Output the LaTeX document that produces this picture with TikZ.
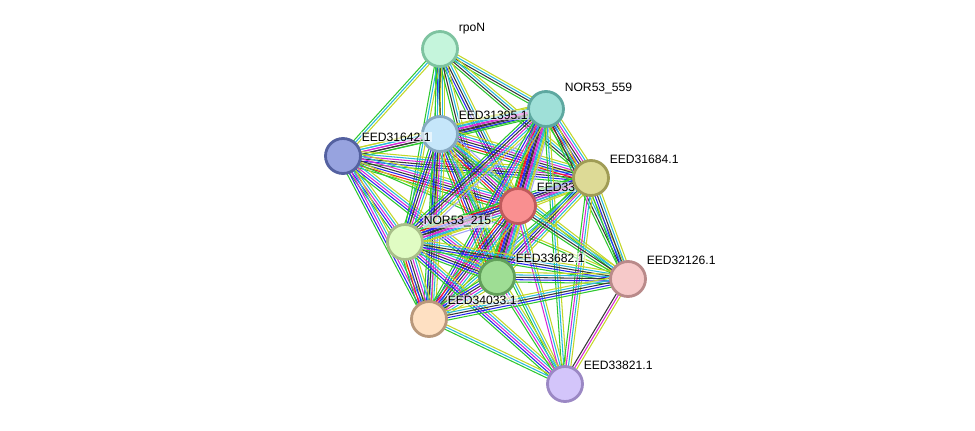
\documentclass[tikz,border=0pt]{standalone}
\usepackage{fontspec}
\setmainfont{Liberation Sans}
\usetikzlibrary{calc}
\usetikzlibrary{backgrounds}

% evidence colours
\definecolor{cnb}{RGB}{46,200,46}
\definecolor{cfu}{RGB}{240,30,30}
\definecolor{coc}{RGB}{40,40,240}
\definecolor{ccx}{RGB}{55,55,55}
\definecolor{cex}{RGB}{215,40,215}
\definecolor{cdb}{RGB}{40,185,220}
\definecolor{ctm}{RGB}{195,215,40}
\definecolor{cho}{RGB}{165,165,250}

% one bundle of parallel evidence lines between two nodes
\newcommand\stredge[3]{%
  \foreach \ch [count=\i] in {#3} {\xdef\nch{\i}}%
  \foreach \ch [count=\i] in {#3} {%
    \pgfmathsetmacro\off{(\i-(\nch+1)/2)*1.35}%
    \draw[\ch] ($(#1.center)!\off pt!90:(#2.center)$) -- ($(#2.center)!\off pt!-90:(#1.center)$);
  }%
}

\begin{document}
\begin{tikzpicture}[
    x={(0.02cm,0cm)}, y={(0cm,-0.02cm)},
    % evidence line styles
    nb/.style={draw=cnb, line width=0.6pt},
    fu/.style={draw=cfu, line width=0.6pt},
    oc/.style={draw=coc, line width=0.6pt},
    cx/.style={draw=ccx, line width=0.6pt},
    ex/.style={draw=cex, line width=0.6pt},
    db/.style={draw=cdb, line width=0.6pt},
    tm/.style={draw=ctm, line width=0.6pt},
    ho/.style={draw=cho, line width=0.6pt},
    % protein node
    stnode/.style={circle, line width=1.6pt, minimum size=0.7cm, inner sep=0pt},
    % name next to a node
    lbl/.style={font=\fontsize{6.9}{8}\selectfont, inner sep=0.6pt, xshift=2.3pt,
      fill=white, fill opacity=0.6, text opacity=1}
  ]
  \useasboundingbox (0,0) rectangle (975,430);

  % --- Nodes ---
  \node[stnode, fill={rgb,255:red,197;green,245;blue,220}, draw={rgb,255:red,126;green,195;blue,160},
        label={[lbl]45:rpoN}] (rpoN) at (440,49) {};
  \node[stnode, fill={rgb,255:red,159;green,224;blue,216}, draw={rgb,255:red,94;green,168;blue,160},
        label={[lbl]45:NOR53\_559}] (nor559) at (546,109) {};
  \node[stnode, fill={rgb,255:red,197;green,230;blue,250}, draw={rgb,255:red,134;green,169;blue,192},
        label={[lbl]45:EED31395.1}] (eed395) at (440,134) {};
  \node[stnode, fill={rgb,255:red,151;green,163;blue,223}, draw={rgb,255:red,84;green,97;blue,160},
        label={[lbl]45:EED31642.1}] (eed642) at (343,156) {};
  \node[stnode, fill={rgb,255:red,249;green,143;blue,144}, draw={rgb,255:red,191;green,90;blue,92},
        label={[lbl]45:EED33}] (eed33) at (518,206) {};
  \node[stnode, fill={rgb,255:red,221;green,218;blue,150}, draw={rgb,255:red,160;green,156;blue,85},
        label={[lbl]45:EED31684.1}] (eed684) at (591,178) {};
  \node[stnode, fill={rgb,255:red,224;green,252;blue,195}, draw={rgb,255:red,168;green,190;blue,137},
        label={[lbl]45:NOR53\_215}] (nor215) at (405,242) {};
  \node[stnode, fill={rgb,255:red,254;green,224;blue,194}, draw={rgb,255:red,185;green,152;blue,123},
        label={[lbl]45:EED34033.1}] (eed033) at (429,319) {};
  \node[stnode, fill={rgb,255:red,158;green,221;blue,148}, draw={rgb,255:red,98;green,160;blue,90},
        label={[lbl]45:EED33682.1}] (eed682) at (497,277) {};
  \node[stnode, fill={rgb,255:red,246;green,201;blue,201}, draw={rgb,255:red,185;green,138;blue,138},
        label={[lbl]45:EED32126.1}] (eed126) at (628,279) {};
  \node[stnode, fill={rgb,255:red,211;green,197;blue,250}, draw={rgb,255:red,155;green,136;blue,196},
        label={[lbl]45:EED33821.1}] (eed821) at (565,384) {};

  % --- Edges ---
  \begin{pgfonlayer}{background}
    \stredge{rpoN}{eed642}{nb,db,tm}
    \stredge{rpoN}{eed395}{nb,oc,cx,db,tm}
    \stredge{rpoN}{nor559}{nb,cx,db,tm}
    \stredge{rpoN}{eed684}{nb,cx,db,tm}
    \stredge{rpoN}{eed33}{nb,oc,cx,db,tm}
    \stredge{rpoN}{nor215}{nb,db,tm}
    \stredge{rpoN}{eed682}{nb,cx,db,tm}
    \stredge{rpoN}{eed033}{nb,db,tm}
    \stredge{eed642}{eed395}{nb,cx,ex,db,tm}
    \stredge{eed642}{nor559}{nb,cx,ex,db,tm}
    \stredge{eed642}{eed684}{nb,oc,cx,ex,db,tm}
    \stredge{eed642}{eed33}{nb,fu,oc,cx,ex,db,tm}
    \stredge{eed642}{nor215}{nb,oc,ex,db,tm}
    \stredge{eed642}{eed682}{nb,oc,ex,db,tm}
    \stredge{eed642}{eed033}{nb,oc,ex,db,tm}
    \stredge{eed642}{eed126}{nb,tm}
    \stredge{eed395}{nor559}{nb,oc,cx,ex,db,tm}
    \stredge{eed395}{eed684}{nb,fu,oc,cx,ex,db,tm}
    \stredge{eed395}{eed33}{nb,fu,oc,cx,ex,db,tm,ho}
    \stredge{eed395}{nor215}{nb,oc,cx,ex,db,tm}
    \stredge{eed395}{eed682}{nb,fu,oc,cx,ex,db,tm}
    \stredge{eed395}{eed033}{nb,oc,cx,ex,db,tm}
    \stredge{eed395}{eed126}{nb,db,tm}
    \stredge{eed395}{eed821}{nb,db,tm}
    \stredge{nor559}{eed684}{nb,fu,oc,cx,ex,db,tm}
    \stredge{nor559}{eed33}{nb,fu,oc,cx,ex,db,tm,ho}
    \stredge{nor559}{nor215}{nb,oc,cx,ex,db,tm,ho}
    \stredge{nor559}{eed682}{nb,fu,oc,cx,ex,db,tm}
    \stredge{nor559}{eed033}{nb,oc,ex,db,tm}
    \stredge{nor559}{eed126}{nb,cx,db,tm}
    \stredge{nor559}{eed821}{nb,db,tm}
    \stredge{eed684}{eed33}{nb,oc,cx,ex,db,tm}
    \stredge{eed684}{nor215}{nb,oc,cx,ex,db,tm}
    \stredge{eed684}{eed682}{nb,oc,cx,ex,db,tm}
    \stredge{eed684}{eed033}{nb,db,tm}
    \stredge{eed684}{eed126}{nb,oc,cx,db,tm}
    \stredge{eed684}{eed821}{nb,ex,db,tm}
    \stredge{eed33}{nor215}{nb,fu,oc,cx,ex,db,tm,ho}
    \stredge{eed33}{eed682}{nb,fu,oc,cx,ex,db,tm,ho}
    \stredge{eed33}{eed033}{nb,fu,oc,cx,ex,db,tm}
    \stredge{eed33}{eed126}{nb,cx,db,tm}
    \stredge{eed33}{eed821}{ex,db,tm}
    \stredge{nor215}{eed682}{nb,oc,cx,ex,db,tm}
    \stredge{nor215}{eed033}{nb,fu,oc,cx,ex,db,tm}
    \stredge{nor215}{eed126}{nb,oc,cx,db,tm}
    \stredge{nor215}{eed821}{nb,oc,ex,db,tm}
    \stredge{eed682}{eed033}{nb,oc,cx,ex,db,tm}
    \stredge{eed682}{eed126}{nb,oc,cx,db,tm}
    \stredge{eed682}{eed821}{nb,ex,db,tm}
    \stredge{eed033}{eed126}{nb,oc,cx,db,tm}
    \stredge{eed033}{eed821}{nb,db,tm}
    \stredge{eed126}{eed821}{cx,ex,tm}
  \end{pgfonlayer}

\end{tikzpicture}
\end{document}
